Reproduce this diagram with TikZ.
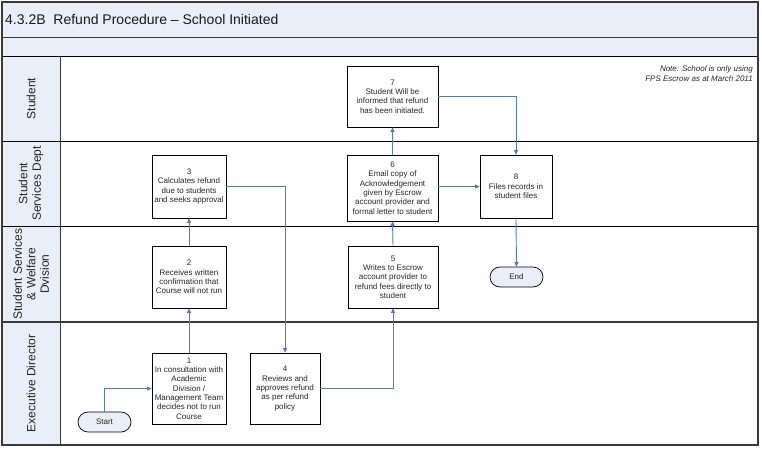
\documentclass[tikz,border=0pt]{standalone}
\usepackage{fontspec}
\setmainfont{Liberation Sans}
\usetikzlibrary{arrows.meta,shapes.misc}
\definecolor{band}{HTML}{E9EEF8}
\definecolor{flow}{HTML}{4F7CBE}
\definecolor{frame}{HTML}{3A3A3A}
\begin{document}
\begin{tikzpicture}[x=1pt,y=-1pt,
  proc/.style={draw=black,line width=0.7pt,fill=white,align=center,inner sep=1pt,
    font=\fontsize{8}{9.3}\selectfont,text=black!85},
  term/.style={draw=black,line width=0.7pt,fill=band,rounded rectangle,
    minimum width=55pt,minimum height=20pt,inner sep=1pt,font=\fontsize{8}{9.3}\selectfont,text=black!85},
  flowline/.style={draw=flow,line width=0.9pt,-{Triangle[length=4.5pt,width=4pt]}},
  lanelabel/.style={rotate=90,align=center,font=\fontsize{12}{13.5}\selectfont,text=black!85},
  laneline/.style={draw=black,line width=0.8pt}]
\useasboundingbox (0,0) rectangle (762,450);
% background bands
\fill[white] (2,56) rectangle (758,445);
\fill[band] (2,2) rectangle (758,56);
\fill[band] (2,56) rectangle (60,445);
\draw[draw=frame,line width=0.8pt] (2,37) -- (758,37);
\draw[laneline] (2,56) -- (758,56);
\draw[laneline] (2,141) -- (758,141);
\draw[laneline] (2,226) -- (758,226);
\draw[draw=frame,line width=1.6pt] (2,322) -- (758,322);
\draw[draw=frame,line width=0.8pt] (60,56) -- (60,445);
\draw[draw=frame,line width=1.4pt] (2,2) rectangle (758,445);
% title and note
\node[anchor=west,inner sep=0pt,font=\fontsize{14}{16}\selectfont,text=black!90] (title) at (5,19.5) {4.3.2B\ \ Refund Procedure – School Initiated};
\node[anchor=east,align=right,inner sep=0pt,font=\fontsize{8}{10}\selectfont\itshape,text=black!85] (note) at (753,74) {Note: School is only using\\FPS Escrow as at March 2011};
% lane labels
\node[lanelabel] (l1) at (31,98.5) {Student};
\node[lanelabel] (l2) at (31,183.5) {Student\\Services Dept};
\node[lanelabel] (l3) at (31,274) {Student Services\\\& Welfare\\Dvision};
\node[lanelabel] (l4) at (31,383.5) {Executive Director};
% process boxes
\node[proc,minimum width=74pt,minimum height=71pt] (b1) at (189,388.5) {1\\In consultation with\\Academic\\Division /\\Management Team\\decides not to run\\Course};
\node[proc,minimum width=74pt,minimum height=62pt] (b2) at (189,277) {2\\Receives written\\confirmation that\\Course will not run};
\node[proc,minimum width=74pt,minimum height=63pt] (b3) at (189,186.5) {3\\Calculates refund\\due to students\\and seeks approval};
\node[proc,minimum width=70pt,minimum height=71pt] (b4) at (285,388.5) {4\\Reviews and\\approves refund\\as per refund\\policy};
\node[proc,minimum width=90pt,minimum height=62pt] (b5) at (393,277) {5\\Writes to Escrow\\account provider to\\refund fees directly to\\student};
\node[proc,minimum width=91pt,minimum height=66pt] (b6) at (392.5,188) {6\\Email copy of\\Acknowledgement\\given by Escrow\\account provider and\\formal letter to student};
\node[proc,minimum width=91pt,minimum height=61pt] (b7) at (392.5,96.5) {7\\Student Will be\\informed that refund\\has been initiated.};
\node[proc,minimum width=72pt,minimum height=63pt] (b8) at (516,186.5) {8\\Files records in\\student files};
\node[term] (start) at (104.5,422) {Start};
\node[term] (end) at (516.5,277) {End};
% connectors
\draw[flowline] (start.north) |- (b1.west);
\draw[flowline] (b1.north) -- (b2.south);
\draw[flowline] (b2.north) -- (b3.south);
\draw[flowline] (b3.east) -| (b4.north);
\draw[flowline] (b4.east) -| (b5.south);
\draw[flowline] (b5.north) -- (b6.south);
\draw[flowline] (b6.north) -- (b7.south);
\draw[flowline] (b6.east |- b8.west) -- (b8.west);
\draw[flowline] (b7.east) -| (b8.north);
\draw[flowline] (b8.south) -- (end.north);
\end{tikzpicture}
\end{document}
